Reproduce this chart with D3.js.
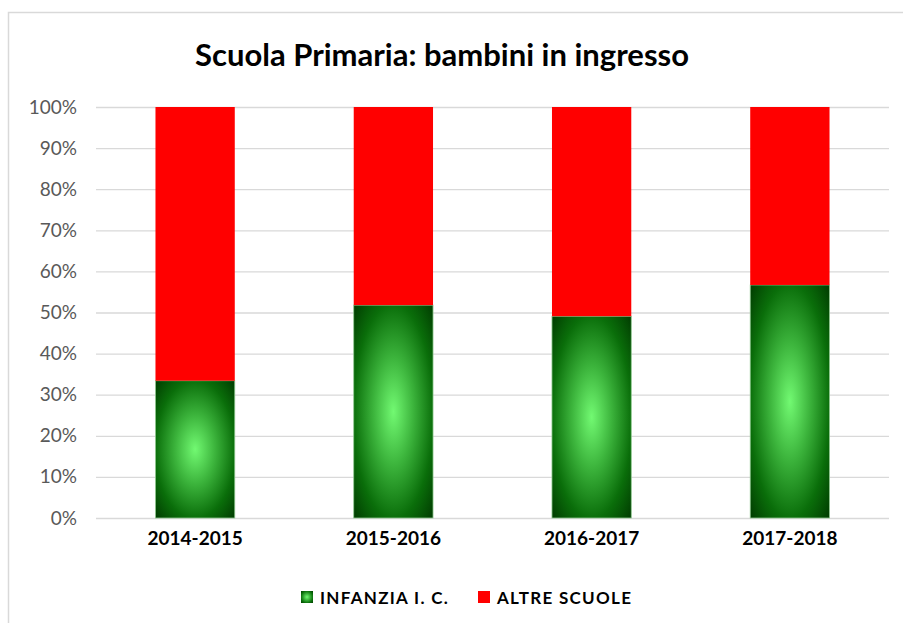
<!DOCTYPE html>
<html>
<head>
<meta charset="utf-8">
<script src="https://cdn.jsdelivr.net/npm/d3@7"></script>
<style>
  html, body { margin: 0; padding: 0; background: #fff; }
  svg { display: block; }
</style>
</head>
<body>
<script>
const categories = ["2014-2015", "2015-2016", "2016-2017", "2017-2018"];
const infanzia = [33.4, 51.8, 49.1, 56.7];
const altre = [66.6, 48.2, 50.9, 43.3];
const seriesNames = ["INFANZIA I. C.", "ALTRE SCUOLE"];
const yTicks = [0, 10, 20, 30, 40, 50, 60, 70, 80, 90, 100];
const title = "Scuola Primaria: bambini in ingresso";

const W = 903, H = 623;
const svg = d3.select("body").append("svg").attr("width", W).attr("height", H);
const defs = svg.append("defs");
const grad = defs.append("radialGradient").attr("id", "greenGrad")
  .attr("cx", "50%").attr("cy", "50%").attr("r", "72%");
grad.append("stop").attr("offset", "0%").attr("stop-color", "#72f972");
grad.append("stop").attr("offset", "35%").attr("stop-color", "#3cb43c");
grad.append("stop").attr("offset", "70%").attr("stop-color", "#0a6e0a");
grad.append("stop").attr("offset", "100%").attr("stop-color", "#003800");

// chart border
svg.append("rect").attr("x", 8.5).attr("y", 12.5).attr("width", W + 10).attr("height", H + 10)
  .attr("fill", "#fff").attr("stroke", "#d9d9d9").attr("stroke-width", 1.5);

const font = "Lato, 'Open Sans', sans-serif";

svg.append("text").attr("x", 442).attr("y", 66).attr("text-anchor", "middle")
  .attr("font-family", font).attr("font-weight", "bold").attr("font-size", 31)
  .attr("fill", "#000").text(title);

const plot = { left: 96, right: 889, top: 107, bottom: 518 };
const x = d3.scaleBand().domain(categories).range([plot.left, plot.right])
  .paddingInner(0.6).paddingOuter(0.3);
const y = d3.scaleLinear().domain([0, 100]).range([plot.bottom, plot.top]);

// gridlines
const yAxis = d3.axisLeft(y).tickValues(yTicks).tickFormat(d => d + "%")
  .tickSize(-(plot.right - plot.left)).tickPadding(19);
const gy = svg.append("g").attr("transform", `translate(${plot.left},0)`).call(yAxis);
gy.select(".domain").remove();
gy.selectAll(".tick line").attr("stroke", "#d9d9d9").attr("stroke-width", 1.3);
gy.selectAll(".tick text").attr("font-family", font).attr("font-size", 19)
  .attr("fill", "#595959");

// bars
const stackData = categories.map((c, i) => ({ cat: c, a: infanzia[i], b: altre[i] }));
const g = svg.append("g");
g.selectAll(".green").data(stackData).enter().append("rect")
  .attr("x", d => x(d.cat)).attr("width", x.bandwidth())
  .attr("y", d => y(d.a)).attr("height", d => y(0) - y(d.a))
  .attr("fill", "url(#greenGrad)").attr("stroke", "#8fc98f").attr("stroke-width", 0.8);
g.selectAll(".red").data(stackData).enter().append("rect")
  .attr("x", d => x(d.cat)).attr("width", x.bandwidth())
  .attr("y", d => y(d.a + d.b)).attr("height", d => y(d.a) - y(d.a + d.b))
  .attr("fill", "#ff0000");

// x axis labels
const xAxis = d3.axisBottom(x).tickSize(0).tickPadding(14);
const gx = svg.append("g").attr("transform", `translate(0,${plot.bottom})`).call(xAxis);
gx.select(".domain").remove();
gx.selectAll(".tick text").attr("font-family", font).attr("font-size", 19)
  .attr("font-weight", "bold").attr("fill", "#000");

// legend
const legend = svg.append("g");
const legendItems = [
  { name: seriesNames[0], fill: "url(#greenGrad)", x: 301 },
  { name: seriesNames[1], fill: "#ff0000", x: 478 }
];
legendItems.forEach(it => {
  legend.append("rect").attr("x", it.x).attr("y", 591).attr("width", 12).attr("height", 12)
    .attr("fill", it.fill);
  legend.append("text").attr("x", it.x + 19).attr("y", 604)
    .attr("font-family", font).attr("font-weight", "bold").attr("font-size", 17)
    .attr("letter-spacing", 1.3)
    .attr("fill", "#000").text(it.name);
});
</script>
</body>
</html>
